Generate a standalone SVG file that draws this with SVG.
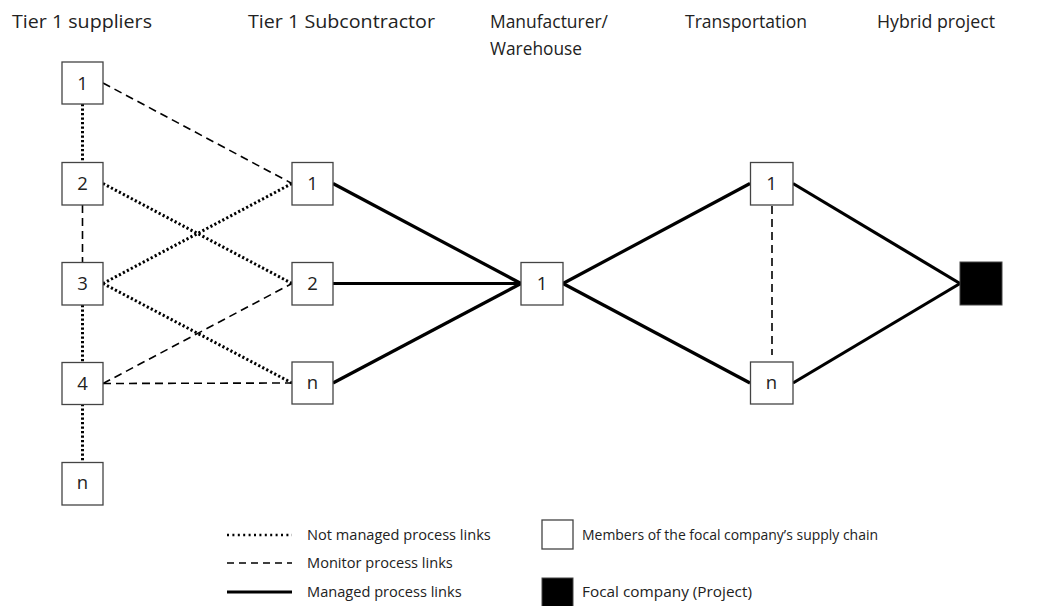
<svg xmlns="http://www.w3.org/2000/svg" width="1054" height="606" viewBox="0 0 1054 606">
<style>
.t{font-family:"Open Sans","Liberation Sans",sans-serif;font-size:18.8px;fill:#222}
.lg{font-family:"Open Sans","Liberation Sans",sans-serif;font-size:14.6px;fill:#222}
.n{font-family:"Open Sans","Liberation Sans",sans-serif;font-size:18.5px;fill:#222;text-anchor:middle}
.box{fill:#fff;stroke:#444;stroke-width:1.3}
.blk{fill:#000;stroke:#444;stroke-width:1}
.dot{fill:none;stroke:#000;stroke-width:3;stroke-dasharray:2.2 2.3}
.dash{fill:none;stroke:#000;stroke-width:1.6;stroke-dasharray:8 5}
.sol{fill:none;stroke:#000;stroke-width:3.2}
</style>
<rect width="1054" height="606" fill="#fff"/>
<g id="titles">
<text class="t" x="12" y="28" textLength="140" lengthAdjust="spacingAndGlyphs">Tier 1 suppliers</text>
<text class="t" x="248" y="28" textLength="187" lengthAdjust="spacingAndGlyphs">Tier 1 Subcontractor</text>
<text class="t" x="490" y="28" textLength="118" lengthAdjust="spacingAndGlyphs">Manufacturer/</text>
<text class="t" x="490" y="55" textLength="92" lengthAdjust="spacingAndGlyphs">Warehouse</text>
<text class="t" x="685" y="28" textLength="122" lengthAdjust="spacingAndGlyphs">Transportation</text>
<text class="t" x="877" y="28" textLength="118" lengthAdjust="spacingAndGlyphs">Hybrid project</text>
</g>
<g id="connectors">
<line class="dot" x1="82.5" y1="104" x2="82.5" y2="162"/>
<line class="dash" x1="82.5" y1="205" x2="82.5" y2="262"/>
<line class="dot" x1="82.5" y1="305" x2="82.5" y2="362"/>
<line class="dot" x1="82.5" y1="404" x2="82.5" y2="462"/>
<line class="dash" x1="103" y1="83" x2="292" y2="183.5"/>
<line class="dot" x1="103" y1="183.5" x2="292" y2="283.5"/>
<line class="dot" x1="103" y1="283.5" x2="292" y2="183.5"/>
<line class="dot" x1="103" y1="283.5" x2="292" y2="383"/>
<line class="dash" x1="103" y1="383.5" x2="292" y2="283.5"/>
<line class="dash" x1="103" y1="383.5" x2="292" y2="383"/>
<line class="sol" x1="333" y1="183.5" x2="521" y2="283.5"/>
<line class="sol" x1="333" y1="283.5" x2="521" y2="283.5"/>
<line class="sol" x1="333" y1="383" x2="521" y2="283.5"/>
<line class="sol" x1="563" y1="283.5" x2="750" y2="183.5"/>
<line class="sol" x1="563" y1="283.5" x2="750" y2="383"/>
<line class="sol" x1="793" y1="183.5" x2="960" y2="283.5"/>
<line class="sol" x1="793" y1="383" x2="960" y2="283.5"/>
<line class="dash" x1="772" y1="206" x2="772" y2="355"/>
</g>
<g id="sup1"><rect class="box" x="62" y="62" width="41" height="42"/><text class="n" x="82.5" y="89.5">1</text></g>
<g id="sup2"><rect class="box" x="62" y="162.5" width="41" height="42.5"/><text class="n" x="82.5" y="190">2</text></g>
<g id="sup3"><rect class="box" x="62" y="262.5" width="41" height="42.5"/><text class="n" x="82.5" y="290">3</text></g>
<g id="sup4"><rect class="box" x="62" y="362.5" width="41" height="42"/><text class="n" x="82.5" y="390">4</text></g>
<g id="supn"><rect class="box" x="62" y="462.5" width="41" height="42.5"/><text class="n" x="82.5" y="489">n</text></g>
<g id="sub1"><rect class="box" x="292" y="162.5" width="41" height="42.5"/><text class="n" x="312.5" y="190">1</text></g>
<g id="sub2"><rect class="box" x="292" y="262.5" width="41" height="42.5"/><text class="n" x="312.5" y="290">2</text></g>
<g id="subn"><rect class="box" x="292" y="362" width="41" height="42"/><text class="n" x="312.5" y="389">n</text></g>
<g id="mfr1"><rect class="box" x="521" y="262.5" width="42" height="42.5"/><text class="n" x="542" y="290">1</text></g>
<g id="tr1"><rect class="box" x="750.5" y="162.5" width="42.5" height="42.5"/><text class="n" x="771.5" y="190">1</text></g>
<g id="trn"><rect class="box" x="750.5" y="362" width="42.5" height="42"/><text class="n" x="771.5" y="389">n</text></g>
<g id="project"><rect class="blk" x="960" y="262" width="42" height="43"/></g>
<g id="legend">
<line class="dot" x1="227" y1="535" x2="292" y2="535" style="stroke-width:2.5;stroke-dasharray:2 3.4"/>
<line class="dash" x1="227" y1="563" x2="292" y2="563" style="stroke-dasharray:7 5"/>
<line class="sol" x1="227" y1="592" x2="292" y2="592"/>
<text class="lg" x="307" y="540">Not managed process links</text>
<text class="lg" x="307" y="568">Monitor process links</text>
<text class="lg" x="307" y="597">Managed process links</text>
<rect class="box" x="542" y="520" width="31" height="29"/>
<rect class="blk" x="542" y="578" width="31" height="30"/>
<text class="lg" x="582" y="540" textLength="296" lengthAdjust="spacingAndGlyphs">Members of the focal company’s supply chain</text>
<text class="lg" x="582" y="597" textLength="170" lengthAdjust="spacingAndGlyphs">Focal company (Project)</text>
</g>
</svg>
